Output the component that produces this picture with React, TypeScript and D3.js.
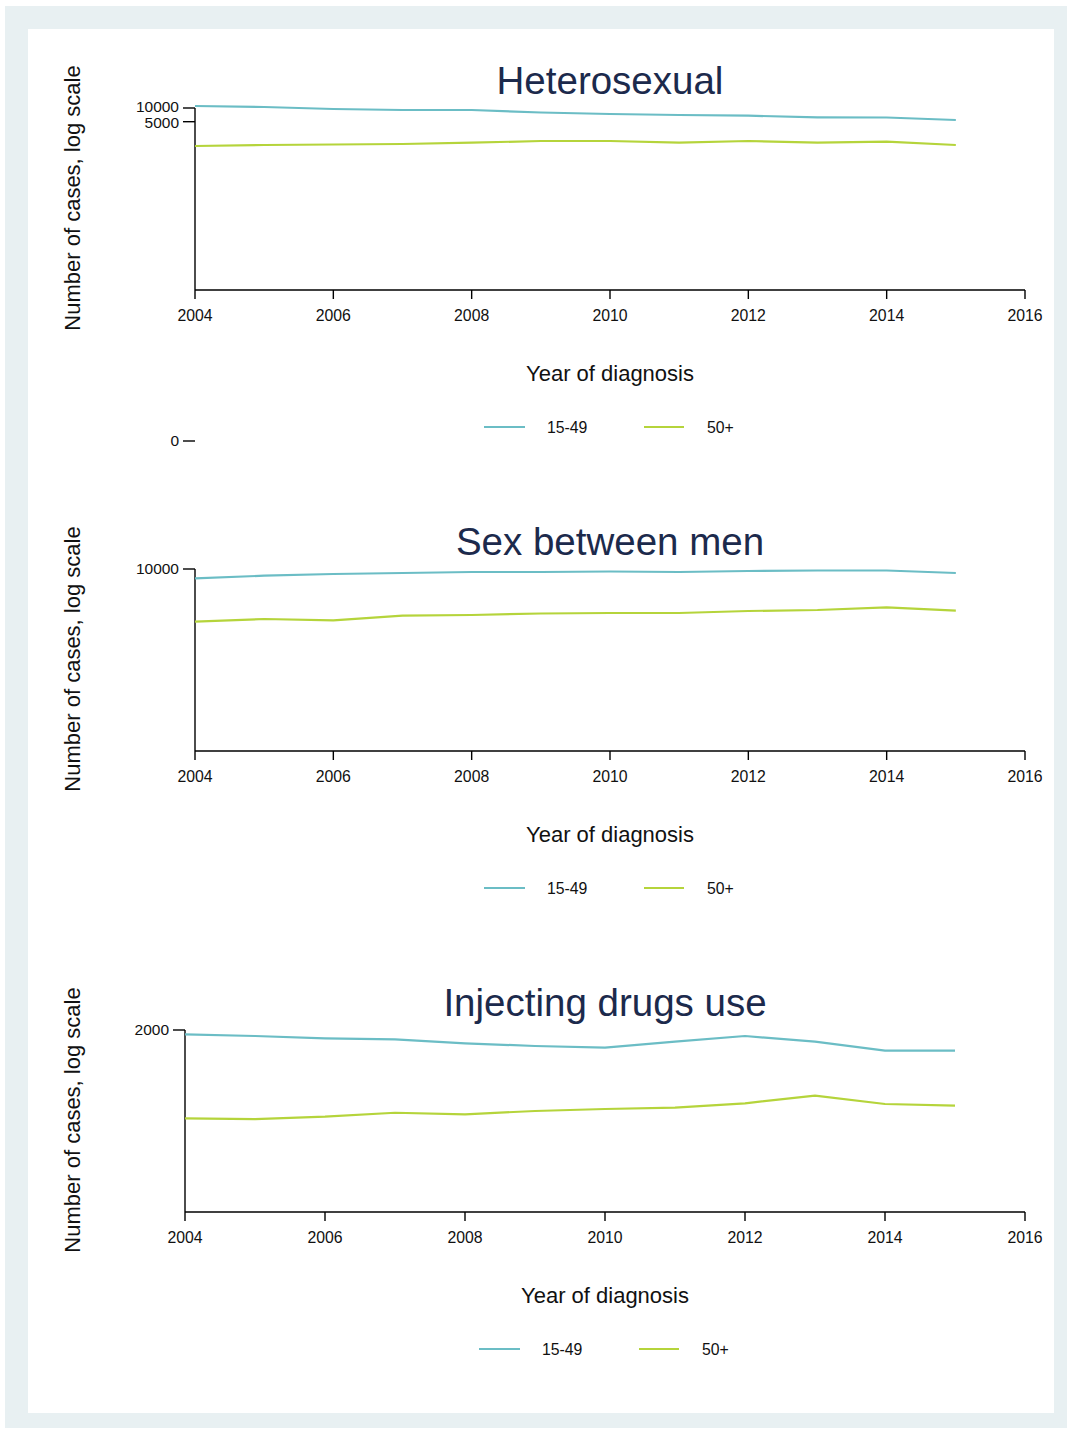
import React from "react";
import * as d3 from "d3";

const years = [2004, 2005, 2006, 2007, 2008, 2009, 2010, 2011, 2012, 2013, 2014, 2015];
const xTicks = [2004, 2006, 2008, 2010, 2012, 2014, 2016];
const seriesNames = ["15-49", "50+"];
const seriesColors = ["#6bbdc5", "#b5d43b"];

const hetero1549 = [11060, 10520, 9510, 9040, 9040, 7960, 7380, 7020, 6770, 6250, 6180, 5450];
const hetero50 = [1462, 1538, 1577, 1617, 1727, 1883, 1883, 1727, 1883, 1727, 1817, 1538];
const msm1549 = [6250, 7120, 7760, 8170, 8590, 8590, 8810, 8590, 9040, 9270, 9270, 8170];
const msm50 = [695, 796, 746, 941, 975, 1052, 1079, 1079, 1194, 1256, 1439, 1212];
const idu1549 = [1608, 1476, 1314, 1250, 1020, 890, 816, 1106, 1476, 1106, 702, 702];
const idu50 = [22.9, 22.1, 24.9, 30.4, 28.1, 33.2, 36.7, 39.2, 49, 72, 47.3, 43.4];

const panelTitles = ["Heterosexual", "Sex between men", "Injecting drugs use"];
const yTickValues = [[10000, 5000], [10000], [2000]];
const yDomains: [number, number][] = [[1, 10000], [1, 10000], [0.2, 2000]];
const panelData = [
  [hetero1549, hetero50],
  [msm1549, msm50],
  [idu1549, idu50],
];

const FONT = "'Liberation Sans', Arial, Helvetica, sans-serif";

type PanelProps = {
  index: number;
  top: number;
  left: number;
};

function Panel({ index, top, left }: PanelProps) {
  const right = 1025;
  const plotTop = top;
  const plotBottom = top + 182;
  const x = d3.scaleLinear().domain([2004, 2016]).range([left, right]);
  const y = d3.scaleLog().domain(yDomains[index]).range([plotBottom, plotTop]);
  const line = d3
    .line<number>()
    .x((_, i) => x(years[i]))
    .y((d) => y(d));
  const cx = (left + right) / 2;
  const legendY = plotTop + 319;
  const ticks = yTickValues[index];

  return (
    <g>
      <text
        x={cx}
        y={plotTop - 14}
        textAnchor="middle"
        fontSize={38.5}
        fill="#1c2a4c"
        fontFamily={FONT}
      >
        {panelTitles[index]}
      </text>
      <text
        transform={`translate(80, ${plotTop + 90}) rotate(-90)`}
        textAnchor="middle"
        fontSize={22}
        fill="#111"
        fontFamily={FONT}
      >
        Number of cases, log scale
      </text>
      {/* axes */}
      <line x1={left} x2={left} y1={plotTop} y2={plotBottom} stroke="#000" strokeWidth={1.4} />
      <line x1={left} x2={right} y1={plotBottom} y2={plotBottom} stroke="#000" strokeWidth={1.4} />
      {ticks.map((v, i) => (
        <g key={v}>
          <line x1={left - 12} x2={left} y1={y(v)} y2={y(v)} stroke="#000" strokeWidth={1.4} />
          <text
            x={left - 16}
            y={y(v) + (ticks.length > 1 ? (i === 0 ? 4 : 6) : 5)}
            textAnchor="end"
            fontSize={15.5}
            fill="#111"
            fontFamily={FONT}
          >
            {v}
          </text>
        </g>
      ))}
      {index === 0 && (
        <g>
          <line x1={left - 12} x2={left} y1={plotTop + 333} y2={plotTop + 333} stroke="#000" strokeWidth={1.4} />
          <text x={left - 16} y={plotTop + 338} textAnchor="end" fontSize={15.5} fill="#111" fontFamily={FONT}>
            0
          </text>
        </g>
      )}
      {xTicks.map((t) => (
        <g key={t}>
          <line x1={x(t)} x2={x(t)} y1={plotBottom} y2={plotBottom + 9} stroke="#000" strokeWidth={1.4} />
          <text
            x={x(t)}
            y={plotBottom + 31}
            textAnchor="middle"
            fontSize={15.8}
            fill="#111"
            fontFamily={FONT}
          >
            {t}
          </text>
        </g>
      ))}
      <text
        x={cx}
        y={plotBottom + 91}
        textAnchor="middle"
        fontSize={22}
        fill="#111"
        fontFamily={FONT}
      >
        Year of diagnosis
      </text>
      {panelData[index].map((s, i) => (
        <path
          key={i}
          d={line(s) || ""}
          fill="none"
          stroke={seriesColors[i]}
          strokeWidth={2.2}
          strokeLinejoin="round"
        />
      ))}
      {/* legend */}
      <line x1={cx - 126} x2={cx - 85} y1={legendY} y2={legendY} stroke={seriesColors[0]} strokeWidth={2.2} />
      <text x={cx - 63} y={legendY + 6} fontSize={15.8} fill="#111" fontFamily={FONT}>
        {seriesNames[0]}
      </text>
      <line x1={cx + 34} x2={cx + 74} y1={legendY} y2={legendY} stroke={seriesColors[1]} strokeWidth={2.2} />
      <text x={cx + 97} y={legendY + 6} fontSize={15.8} fill="#111" fontFamily={FONT}>
        {seriesNames[1]}
      </text>
    </g>
  );
}

export default function App() {
  return (
    <svg
      width={1067}
      height={1429}
      style={{ position: "absolute", left: 0, top: 0, background: "#fff" }}
    >
      <rect x={5} y={6} width={1062} height={1422} fill="#e8f0f2" />
      <rect x={28} y={29} width={1026} height={1384} fill="#ffffff" />
      <Panel index={0} top={108} left={195} />
      <Panel index={1} top={569} left={195} />
      <Panel index={2} top={1030} left={185} />
    </svg>
  );
}
